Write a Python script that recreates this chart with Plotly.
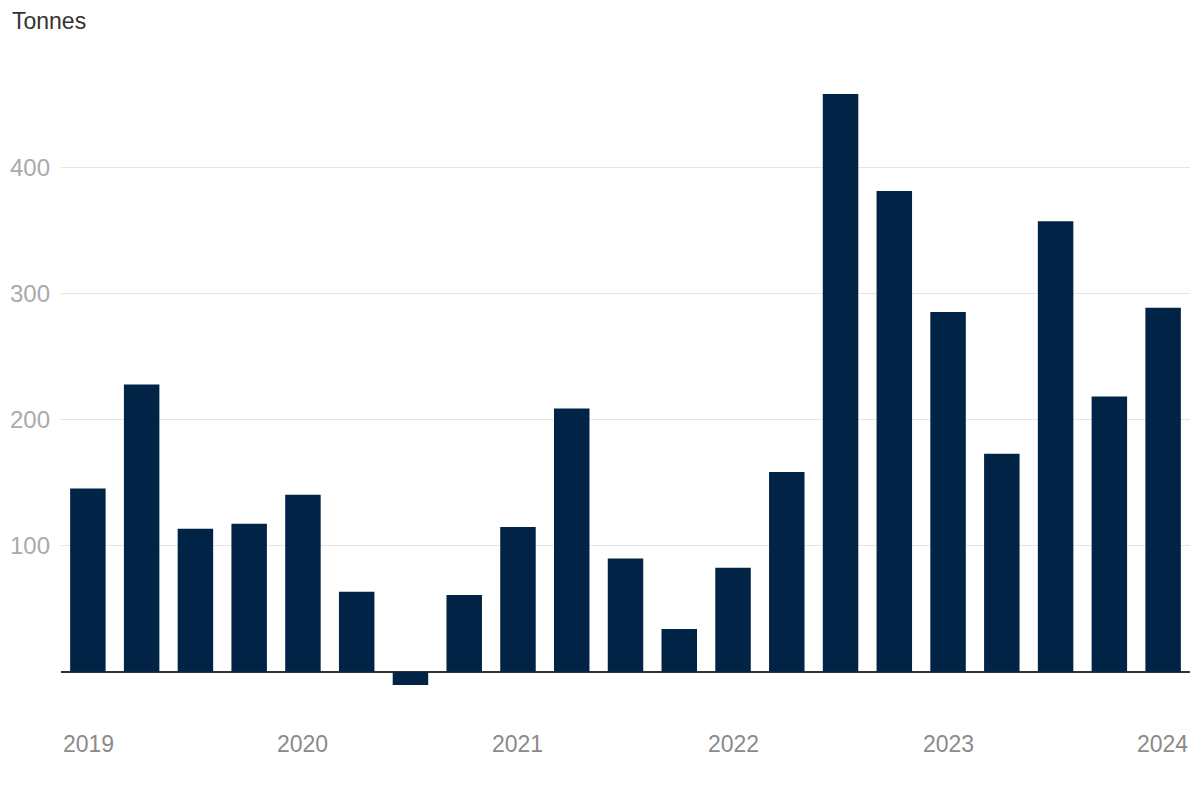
import plotly.graph_objects as go

quarters = [f"{y} Q{q}" for y in range(2019, 2025) for q in range(1, 5)][:21]
values = [145.5, 228, 113.5, 117.5, 140.5, 63.5, -10.5, 61, 115, 209, 90, 34, 82.5,
          158.5, 458.5, 381.5, 285.5, 173, 357.5, 218.5, 289]
year_labels = ["2019", "2020", "2021", "2022", "2023", "2024"]
year_positions = [0, 4, 8, 12, 16, 20]
y_ticks = [100, 200, 300, 400]

fig = go.Figure(go.Bar(x=list(range(len(quarters))), y=values, marker_color="#012345",
                       marker_line_width=0, hovertext=quarters))

font = "Liberation Sans, Arial, sans-serif"
for lab, pos in zip(year_labels, year_positions):
    if pos == 0:
        xx, anchor = -0.5, "left"
    elif pos == len(quarters) - 1:
        xx, anchor = pos + 0.5, "right"
    else:
        xx, anchor = pos, "center"
    fig.add_annotation(x=xx, y=-0.075, xref="x", yref="paper", text=lab, showarrow=False,
                       xanchor=anchor, yanchor="middle",
                       font=dict(family=font, size=23, color="#8a8a8a"))

fig.add_annotation(xref="paper", yref="paper", x=-0.0455, y=1.073, text="Tonnes",
                   showarrow=False, xanchor="left", yanchor="middle",
                   font=dict(family=font, size=23, color="#333333"))

fig.update_layout(
    width=1200, height=800,
    margin=dict(l=61, r=10, t=67, b=103, autoexpand=False),
    plot_bgcolor="white", paper_bgcolor="white",
    bargap=0.34, showlegend=False,
    xaxis=dict(range=[-0.5, len(quarters) - 0.5], showticklabels=False, showgrid=False,
               zeroline=False, showline=False, ticks="", automargin=False),
    yaxis=dict(range=[-20, 480], tickvals=y_ticks, showgrid=True, gridcolor="#e5e5e5",
               gridwidth=1, zeroline=True, zerolinecolor="#333333", zerolinewidth=2,
               tickfont=dict(family=font, size=24, color="#aaaaaa"), ticklabelstandoff=10,
               showline=False, automargin=False),
)
fig.write_html("out.html")
